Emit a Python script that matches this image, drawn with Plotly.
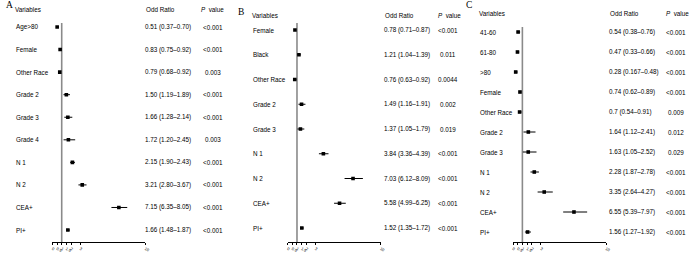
import plotly.graph_objects as go

W, H = 700, 253

# ---------------- data ----------------
a_vars = ["Age>80", "Female", "Other Race", "Grade 2", "Grade 3", "Grade 4", "N 1", "N 2", "CEA+", "PI+"]
a_or = [0.51, 0.83, 0.79, 1.50, 1.66, 1.72, 2.15, 3.21, 7.15, 1.66]
a_lo = [0.37, 0.75, 0.68, 1.19, 1.28, 1.20, 1.90, 2.80, 6.35, 1.48]
a_hi = [0.70, 0.92, 0.92, 1.89, 2.14, 2.45, 2.43, 3.67, 8.05, 1.87]
a_txt = ["0.51 (0.37–0.70)", "0.83 (0.75–0.92)", "0.79 (0.68–0.92)", "1.50 (1.19–1.89)",
         "1.66 (1.28–2.14)", "1.72 (1.20–2.45)", "2.15 (1.90–2.43)", "3.21 (2.80–3.67)",
         "7.15 (6.35–8.05)", "1.66 (1.48–1.87)"]
a_p = ["<0.001", "<0.001", "0.003", "<0.001", "<0.001", "0.003", "<0.001", "<0.001", "<0.001", "<0.001"]

b_vars = ["Female", "Black", "Other Race", "Grade 2", "Grade 3", "N 1", "N 2", "CEA+", "PI+"]
b_or = [0.78, 1.21, 0.76, 1.49, 1.37, 3.84, 7.03, 5.58, 1.52]
b_lo = [0.71, 1.04, 0.63, 1.16, 1.05, 3.36, 6.12, 4.99, 1.35]
b_hi = [0.87, 1.39, 0.92, 1.91, 1.79, 4.39, 8.09, 6.25, 1.72]
b_txt = ["0.78 (0.71–0.87)", "1.21 (1.04–1.39)", "0.76 (0.63–0.92)", "1.49 (1.16–1.91)",
         "1.37 (1.05–1.79)", "3.84 (3.36–4.39)", "7.03 (6.12–8.09)", "5.58 (4.99–6.25)",
         "1.52 (1.35–1.72)"]
b_p = ["<0.001", "0.011", "0.0044", "0.002", "0.019", "<0.001", "<0.001", "<0.001", "<0.001"]

c_vars = ["41-60", "61-80", ">80", "Female", "Other Race", "Grade 2", "Grade 3", "N 1", "N 2", "CEA+", "PI+"]
c_or = [0.54, 0.47, 0.28, 0.74, 0.70, 1.64, 1.63, 2.28, 3.35, 6.55, 1.56]
c_lo = [0.38, 0.33, 0.167, 0.62, 0.54, 1.12, 1.05, 1.87, 2.64, 5.39, 1.27]
c_hi = [0.76, 0.66, 0.48, 0.89, 0.91, 2.41, 2.52, 2.78, 4.27, 7.97, 1.92]
c_txt = ["0.54 (0.38–0.76)", "0.47 (0.33–0.66)", "0.28 (0.167–0.48)", "0.74 (0.62–0.89)",
         "0.7 (0.54–0.91)", "1.64 (1.12–2.41)", "1.63 (1.05–2.52)", "2.28 (1.87–2.78)",
         "3.35 (2.64–4.27)", "6.55 (5.39–7.97)", "1.56 (1.27–1.92)"]
c_p = ["<0.001", "<0.001", "<0.001", "<0.001", "0.009", "0.012", "0.029", "<0.001", "<0.001", "<0.001", "<0.001"]

x_ticks = [0, 0.5, 1, 1.5, 2, 3, 10]
x_ticklabels = ["0", "0.5", "1", "1.5", "2", "3", "10"]

# ---------------- layout helpers (pixel geometry) ----------------
panels = [
    dict(letter="A", lx=2, ly=5, vars=a_vars, orv=a_or, lo=a_lo, hi=a_hi, txt=a_txt, p=a_p,
         x0=51, x1=145, top=23, first=27, step=22.56, hdr_y=9,
         var_x=12, or_x=143, p_x=213, ph_x=199),
    dict(letter="B", lx=237, ly=12, vars=b_vars, orv=b_or, lo=b_lo, hi=b_hi, txt=b_txt, p=b_p,
         x0=289, x1=383, top=23, first=30, step=24.75, hdr_y=16,
         var_x=252, or_x=384, p_x=451, ph_x=439),
    dict(letter="C", lx=467, ly=5, vars=c_vars, orv=c_or, lo=c_lo, hi=c_hi, txt=c_txt, p=c_p,
         x0=517, x1=611, top=27, first=32, step=20.0, hdr_y=13,
         var_x=481, or_x=612, p_x=682, ph_x=670),
]
AXIS_Y = 242
FONT = "Liberation Sans, Arial, sans-serif"
FS = 6.3

fig = go.Figure()
annotations = []
shapes = []
layout = {}

def px(x):
    return x / W

def py(y):
    return 1 - y / H

for i, P in enumerate(panels):
    k = "" if i == 0 else str(i + 1)
    xa, ya = "x" + k, "y" + k
    n = len(P["vars"])
    idx = list(range(n))
    fig.add_trace(go.Scatter(
        x=P["orv"], y=idx, xaxis=xa, yaxis=ya, mode="markers",
        marker=dict(symbol="square", size=3.6, color="black"),
        error_x=dict(type="data", symmetric=False,
                     array=[h - o for h, o in zip(P["hi"], P["orv"])],
                     arrayminus=[o - l for o, l in zip(P["orv"], P["lo"])],
                     color="black", thickness=1, width=0),
        showlegend=False, hoverinfo="skip"))
    y_bottom = (AXIS_Y - P["first"]) / P["step"]
    y_top = -(P["first"] - P["top"]) / P["step"]
    layout["xaxis" + k] = dict(
        domain=[px(P["x0"]), px(P["x1"])], range=[0, 10], anchor=ya,
        tickvals=x_ticks, ticktext=x_ticklabels, ticks="outside", ticklen=2,
        tickwidth=0.8, tickcolor="black", showline=True, linecolor="black",
        linewidth=0.8, showgrid=False, zeroline=False,
        tickfont=dict(size=4, color="black", family=FONT), fixedrange=True)
    layout["yaxis" + k] = dict(
        domain=[py(AXIS_Y), py(P["top"])], range=[y_bottom, y_top], anchor=xa,
        visible=False, showgrid=False, zeroline=False, fixedrange=True)
    shapes.append(dict(type="line", xref=xa, yref=ya + " domain", x0=1, x1=1, y0=0, y1=1,
                       line=dict(color="#8a8a8a", width=1.6), layer="below"))
    # panel letter
    annotations.append(dict(text=P["letter"], x=px(P["lx"]), y=py(P["ly"]), xref="paper", yref="paper",
                            xanchor="left", yanchor="middle", showarrow=False,
                            font=dict(family="Liberation Serif, Times New Roman, serif", size=9.5, color="black")))
    # headers
    annotations.append(dict(text="Variables", x=px(P["var_x"] - 1), y=py(P["hdr_y"]), xref="paper", yref="paper",
                            xanchor="left", yanchor="middle", showarrow=False,
                            font=dict(family=FONT, size=FS, color="black")))
    annotations.append(dict(text="Odd Ratio", x=px(P["or_x"] + 1), y=py(P["hdr_y"]), xref="paper", yref="paper",
                            xanchor="left", yanchor="middle", showarrow=False,
                            font=dict(family=FONT, size=FS, color="black")))
    annotations.append(dict(text="<i>P</i>  value", x=px(P["ph_x"]), y=py(P["hdr_y"]), xref="paper", yref="paper",
                            xanchor="left", yanchor="middle", showarrow=False,
                            font=dict(family=FONT, size=FS, color="black")))
    for j in idx:
        annotations.append(dict(text=P["vars"][j], x=px(P["var_x"]), y=j, xref="paper", yref=ya,
                                xanchor="left", yanchor="middle", showarrow=False,
                                font=dict(family=FONT, size=FS, color="black")))
        annotations.append(dict(text=P["txt"][j], x=px(P["or_x"]), y=j, xref="paper", yref=ya,
                                xanchor="left", yanchor="middle", showarrow=False,
                                font=dict(family=FONT, size=FS, color="black")))
        annotations.append(dict(text=P["p"][j], x=px(P["p_x"]), y=j, xref="paper", yref=ya,
                                xanchor="center", yanchor="middle", showarrow=False,
                                font=dict(family=FONT, size=FS, color="black")))

fig.update_layout(
    width=W, height=H, margin=dict(l=0, r=0, t=0, b=0),
    paper_bgcolor="white", plot_bgcolor="white",
    annotations=annotations, shapes=shapes, showlegend=False,
    **layout)

fig.write_html("out.html", config={"displayModeBar": False},
               post_script="document.body.style.margin='0';document.body.style.overflow='hidden';")
